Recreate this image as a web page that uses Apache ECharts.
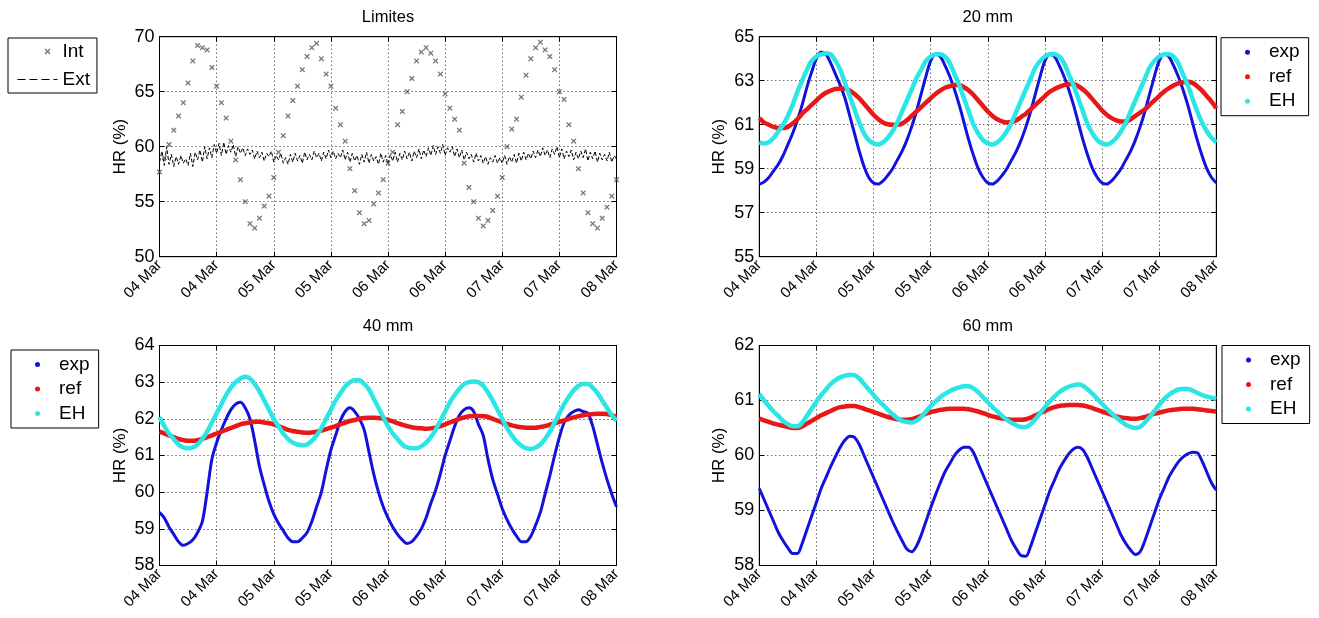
<!DOCTYPE html>
<html><head><meta charset="utf-8">
<script src="https://cdn.jsdelivr.net/npm/echarts@6/dist/echarts.min.js"></script>
<style>html,body{margin:0;padding:0;background:#fff}#c{width:1319px;height:618px}</style>
</head><body><div id="c"></div>
<script>
// ---- Data (hours from 04 Mar 00:00; hourly samples unless stated) ----
const tickLabels = ['04 Mar','04 Mar','05 Mar','05 Mar','06 Mar','06 Mar','07 Mar','07 Mar','08 Mar'];

const intHR = [57.7,59.0,60.2,61.5,62.8,64.0,65.8,67.8,69.2,69.0,
 68.8,67.2,65.5,64.0,62.6,60.5,58.8,57.0,55.0,53.0,
 52.6,53.5,54.6,55.5,57.2,59.5,61.0,62.8,64.2,65.5,
 67.0,68.2,69.0,69.4,68.0,66.6,65.5,63.5,62.0,60.5,
 58.0,56.0,54.0,53.0,53.3,54.8,55.8,57.0,58.5,59.5,
 62.0,63.2,65.0,66.2,67.8,68.6,69.0,68.5,67.8,66.6,
 64.8,63.5,62.5,61.5,58.5,56.3,55.0,53.5,52.8,53.3,
 54.2,55.5,57.2,60.0,61.6,62.5,64.5,66.5,68.0,69.0,
 69.5,68.8,68.2,67.0,65.0,64.3,62.0,60.5,58.0,55.8,
 54.0,53.0,52.6,53.5,54.5,55.5,57.0];

// half-hourly samples
const extHR = [58.6,59.6,58.3,60.0,58.4,59.3,58.2,59.1,
 58.4,59.2,58.5,58.9,58.3,59.4,58.2,59.5,
 58.8,59.7,58.6,60.0,58.9,59.9,59.0,60.2,
 59.4,60.3,59.2,60.4,59.3,60.1,59.5,60.2,
 59.1,60.0,59.4,59.9,59.2,59.8,59.3,59.7,
 58.9,59.6,59.0,59.5,58.7,59.4,59.1,59.6,
 58.6,59.2,58.8,59.4,58.5,59.0,58.4,59.3,
 58.6,59.4,58.7,59.2,58.5,59.5,58.8,59.3,
 58.8,59.6,59.0,59.4,58.7,59.5,58.9,59.7,
 59.0,59.6,58.9,59.4,59.0,59.7,58.8,59.5,
 58.6,59.4,58.7,59.2,58.4,59.3,58.6,59.5,
 58.5,59.3,58.7,59.1,58.4,59.4,58.6,59.2,
 58.4,59.3,58.7,59.5,58.6,59.4,58.8,59.6,
 58.9,59.5,58.7,59.6,59.0,59.8,58.9,59.7,
 59.1,59.9,59.2,60.1,59.3,60.0,59.4,60.2,
 59.2,59.9,59.5,60.0,59.1,59.8,59.0,59.7,
 58.8,59.5,58.9,59.3,58.6,59.4,58.7,59.2,
 58.5,59.1,58.4,59.0,58.6,59.2,58.5,59.0,
 58.5,59.2,58.4,59.1,58.6,59.3,58.5,59.4,
 58.7,59.5,58.8,59.4,58.9,59.6,59.0,59.7,
 59.1,59.9,59.2,59.7,59.0,59.8,59.3,60.0,
 59.0,59.8,58.9,59.6,59.1,59.7,58.8,59.5,
 58.9,59.6,59.0,59.8,58.7,59.5,58.9,59.6,
 58.6,59.4,58.8,59.3,58.7,59.5,58.6,59.2,
 58.9];

const exp20 = [58.3,58.4,58.6,58.9,59.2,59.6,60.1,60.6,61.2,61.9,
 62.7,63.4,64.0,64.3,64.2,63.8,63.3,62.8,62.2,61.4,
 60.6,59.8,59.1,58.6,58.35,58.3,58.45,58.7,59.0,59.4,
 59.8,60.3,60.9,61.6,62.4,63.2,63.9,64.2,64.1,63.7,
 63.2,62.6,61.9,61.1,60.3,59.6,59.0,58.6,58.35,58.3,
 58.45,58.7,59.0,59.4,59.8,60.3,60.9,61.6,62.4,63.2,
 63.9,64.2,64.1,63.7,63.2,62.6,61.9,61.1,60.3,59.6,
 59.0,58.6,58.35,58.3,58.45,58.7,59.0,59.4,59.8,60.3,
 60.9,61.6,62.4,63.2,63.9,64.2,64.1,63.7,63.2,62.6,
 61.9,61.1,60.3,59.6,59.0,58.6,58.35];
const ref20 = [61.3,61.1,61.0,60.9,60.85,60.85,60.9,61.05,61.25,61.5,
 61.7,61.9,62.1,62.3,62.45,62.55,62.62,62.65,62.65,62.55,
 62.4,62.2,61.95,61.7,61.45,61.25,61.1,61.02,61.0,61.0,
 61.05,61.2,61.4,61.6,61.8,62.0,62.2,62.4,62.55,62.68,
 62.75,62.8,62.8,62.7,62.55,62.35,62.1,61.85,61.6,61.4,
 61.25,61.15,61.1,61.12,61.2,61.35,61.5,61.7,61.9,62.1,
 62.3,62.5,62.62,62.72,62.8,62.85,62.85,62.75,62.6,62.4,
 62.15,61.9,61.65,61.45,61.3,61.2,61.15,61.15,61.25,61.4,
 61.55,61.7,61.9,62.1,62.3,62.5,62.65,62.78,62.88,62.93,
 62.95,62.9,62.75,62.55,62.3,62.05,61.75];
const eh20 = [60.2,60.15,60.2,60.4,60.7,61.0,61.4,61.9,62.5,63.0,
 63.5,63.9,64.1,64.2,64.25,64.2,63.9,63.5,62.9,62.3,
 61.7,61.1,60.6,60.3,60.15,60.1,60.2,60.4,60.7,61.1,
 61.6,62.1,62.6,63.1,63.5,63.9,64.1,64.2,64.2,64.1,
 63.8,63.3,62.8,62.2,61.6,61.0,60.6,60.3,60.15,60.1,
 60.2,60.4,60.7,61.1,61.6,62.1,62.6,63.1,63.6,63.9,
 64.1,64.2,64.2,64.1,63.8,63.3,62.8,62.2,61.6,61.0,
 60.6,60.3,60.15,60.1,60.2,60.4,60.7,61.1,61.6,62.1,
 62.6,63.1,63.6,63.9,64.1,64.2,64.2,64.1,63.8,63.3,
 62.8,62.2,61.6,61.1,60.7,60.4,60.2];

const exp40 = [59.45,59.3,59.05,58.85,58.65,58.55,58.6,58.7,58.9,59.2,
 60.0,60.9,61.35,61.7,62.0,62.25,62.4,62.45,62.3,62.0,
 61.4,60.7,60.2,59.75,59.4,59.15,58.95,58.75,58.65,58.65,
 58.75,58.9,59.2,59.6,60.0,60.6,61.15,61.55,61.95,62.2,
 62.3,62.2,62.0,61.7,61.1,60.5,60.0,59.6,59.3,59.05,
 58.85,58.7,58.6,58.65,58.8,59.0,59.3,59.7,60.05,60.5,
 61.0,61.4,61.8,62.1,62.25,62.3,62.2,61.85,61.55,60.9,
 60.35,59.95,59.55,59.25,59.0,58.8,58.65,58.65,58.8,59.1,
 59.45,59.95,60.45,61.0,61.5,61.9,62.1,62.2,62.25,62.2,
 62.15,61.8,61.3,60.8,60.35,59.95,59.6];
const ref40 = [61.65,61.6,61.55,61.5,61.45,61.42,61.4,61.4,61.42,61.45,
 61.5,61.55,61.6,61.65,61.7,61.75,61.8,61.85,61.88,61.9,
 61.92,61.92,61.9,61.88,61.85,61.8,61.75,61.7,61.67,61.65,
 61.63,61.62,61.63,61.65,61.68,61.72,61.76,61.8,61.85,61.9,
 61.94,61.97,62.0,62.02,62.03,62.03,62.02,62.0,61.97,61.93,
 61.88,61.84,61.8,61.77,61.75,61.74,61.73,61.74,61.76,61.8,
 61.85,61.9,61.95,62.0,62.04,62.07,62.08,62.08,62.07,62.05,
 62.0,61.95,61.9,61.86,61.82,61.79,61.77,61.76,61.76,61.76,
 61.78,61.8,61.84,61.88,61.92,61.96,62.0,62.04,62.07,62.1,
 62.12,62.13,62.14,62.14,62.13,62.1,62.05];
const eh40 = [62.05,61.8,61.6,61.45,61.3,61.22,61.2,61.22,61.3,61.45,
 61.65,61.9,62.15,62.4,62.65,62.85,63.0,63.1,63.15,63.1,
 62.95,62.75,62.5,62.25,62.0,61.8,61.6,61.45,61.35,61.3,
 61.28,61.3,61.4,61.55,61.75,62.0,62.25,62.5,62.7,62.88,
 63.0,63.05,63.05,62.95,62.8,62.55,62.3,62.05,61.8,61.6,
 61.45,61.3,61.22,61.2,61.2,61.25,61.35,61.5,61.7,61.95,
 62.2,62.45,62.65,62.82,62.95,63.0,63.02,63.0,62.9,62.72,
 62.5,62.25,62.0,61.75,61.55,61.38,61.27,61.2,61.18,61.22,
 61.3,61.45,61.65,61.9,62.15,62.4,62.6,62.78,62.9,62.95,
 62.95,62.85,62.7,62.5,62.3,62.1,61.95];

const exp60 = [59.4,59.2,59.0,58.8,58.6,58.45,58.32,58.22,58.22,58.4,
 58.65,58.9,59.15,59.4,59.6,59.8,59.98,60.15,60.28,60.35,
 60.33,60.2,60.0,59.8,59.6,59.4,59.2,59.0,58.8,58.62,
 58.45,58.3,58.25,58.35,58.55,58.8,59.05,59.28,59.5,59.7,
 59.85,60.0,60.1,60.15,60.15,60.05,59.85,59.65,59.45,59.25,
 59.05,58.85,58.65,58.45,58.3,58.18,58.17,58.35,58.6,58.85,
 59.1,59.35,59.55,59.75,59.9,60.03,60.12,60.15,60.1,59.95,
 59.75,59.55,59.35,59.15,58.95,58.75,58.55,58.4,58.28,58.2,
 58.25,58.45,58.7,58.95,59.2,59.4,59.6,59.75,59.88,59.97,
 60.03,60.06,60.05,59.9,59.7,59.5,59.37];
const ref60 = [60.67,60.64,60.61,60.58,60.56,60.54,60.52,60.5,60.5,60.53,
 60.58,60.63,60.68,60.73,60.77,60.81,60.85,60.88,60.89,60.9,
 60.9,60.88,60.85,60.82,60.79,60.76,60.73,60.7,60.68,60.66,
 60.65,60.65,60.66,60.69,60.72,60.76,60.79,60.81,60.83,60.84,
 60.85,60.85,60.85,60.85,60.84,60.82,60.8,60.77,60.74,60.71,
 60.69,60.67,60.66,60.65,60.65,60.65,60.66,60.69,60.73,60.77,
 60.81,60.85,60.88,60.9,60.91,60.92,60.92,60.92,60.91,60.89,
 60.86,60.83,60.8,60.77,60.74,60.71,60.69,60.68,60.67,60.67,
 60.68,60.7,60.73,60.76,60.78,60.8,60.82,60.83,60.84,60.85,
 60.85,60.85,60.84,60.83,60.82,60.81,60.8];
const eh60 = [61.12,61.0,60.9,60.8,60.72,60.63,60.57,60.53,60.53,60.6,
 60.72,60.85,60.98,61.1,61.2,61.3,61.37,61.42,61.45,61.47,
 61.46,61.4,61.3,61.2,61.1,61.0,60.92,60.83,60.75,60.68,
 60.63,60.61,60.6,60.63,60.7,60.8,60.9,60.98,61.06,61.12,
 61.17,61.21,61.24,61.26,61.26,61.22,61.15,61.06,60.97,60.88,
 60.8,60.72,60.65,60.59,60.55,60.52,60.52,60.57,60.66,60.77,
 60.88,60.98,61.07,61.15,61.21,61.25,61.28,61.29,61.27,61.2,
 61.12,61.03,60.94,60.85,60.77,60.69,60.62,60.56,60.52,60.5,
 60.52,60.6,60.7,60.81,60.92,61.02,61.1,61.16,61.2,61.21,
 61.21,61.18,61.14,61.1,61.07,61.05,61.03];

// ---- Layout / style ----
const FONT = '"Liberation Sans", Arial, Helvetica, sans-serif';
const W = 457, H = 220;
const panels = [
  {title:'Limites', yMin:50, yMax:70, yInt:5, left:159.5, top:36.7},
  {title:'20 mm',   yMin:55, yMax:65, yInt:2, left:759.3, top:36.7},
  {title:'40 mm',   yMin:58, yMax:64, yInt:1, left:159.5, top:345.5},
  {title:'60 mm',   yMin:58, yMax:62, yInt:1, left:759.3, top:345.5}
];
const COL = {exp:'#1212dc', ref:'#e81818', EH:'#2ce6e6', int:'#555555', ext:'#000000'};
const XMARK = 'path://M0,1L1,0L3,2L5,0L6,1L4,3L6,5L5,6L3,4L1,6L0,5L2,3Z';
const XMARK_LEG = 'path://M0,3L0.01,3L0,3ZM26,1L27,0L29,2L31,0L32,1L30,3L32,5L31,6L29,4L27,6L26,5L28,3ZM38,3L38.01,3L38,3Z';
const gridLine = {show:true, lineStyle:{color:'#222', type:[1,3], width:1}};
const blk = {color:'#000', width:1};

const grid = [], xAxis = [], yAxis = [], title = [];
panels.forEach((p, g) => {
  grid.push({left:p.left, top:p.top, width:W, height:H, show:true, borderColor:'#000', borderWidth:1, backgroundColor:'#fff'});
  title.push({text:p.title, left:p.left + W/2, top:p.top - 28, textAlign:'center', padding:0,
    textStyle:{fontSize:16.5, fontWeight:'normal', color:'#000', fontFamily:FONT}});
  xAxis.push({type:'value', gridIndex:g, min:0, max:96, interval:12,
    axisLine:{show:true, onZero:false, lineStyle:blk},
    axisTick:{show:true, inside:true, length:5, lineStyle:blk},
    axisLabel:{rotate:45, fontSize:15, color:'#000', fontFamily:FONT, margin:6,
      formatter: v => tickLabels[Math.round(v/12)]},
    splitLine:gridLine});
  xAxis.push({type:'value', gridIndex:g, position:'top', min:0, max:96, interval:12,
    axisLine:{show:true, onZero:false, lineStyle:blk},
    axisTick:{show:true, inside:true, length:5, lineStyle:blk},
    axisLabel:{show:false}, splitLine:{show:false}});
  yAxis.push({type:'value', gridIndex:g, min:p.yMin, max:p.yMax, interval:p.yInt,
    name:'HR (%)', nameLocation:'middle', nameGap:31, nameRotate:90,
    nameTextStyle:{fontSize:17, color:'#000', fontFamily:FONT},
    axisLine:{show:true, onZero:false, lineStyle:blk},
    axisTick:{show:true, inside:true, length:5, lineStyle:blk},
    axisLabel:{fontSize:18, color:'#000', fontFamily:FONT, margin:5},
    splitLine:gridLine});
  yAxis.push({type:'value', gridIndex:g, position:'right', min:p.yMin, max:p.yMax, interval:p.yInt,
    axisLine:{show:true, onZero:false, lineStyle:blk},
    axisTick:{show:true, inside:true, length:5, lineStyle:blk},
    axisLabel:{show:false}, splitLine:{show:false}});
});

const hourly = arr => arr.map((v, i) => [i, v]);
const halfHourly = arr => arr.map((v, i) => [i * 0.5, v]);

const series = [
  {name:'Ext', type:'line', xAxisIndex:0, yAxisIndex:0, data:halfHourly(extHR), symbol:'none',
   lineStyle:{color:COL.ext, width:1, type:[4,2]}, itemStyle:{color:COL.ext}, z:2},
  {name:'Int', type:'scatter', xAxisIndex:0, yAxisIndex:0, data:hourly(intHR), symbol:XMARK, symbolSize:5.5,
   itemStyle:{color:COL.int}, z:3}
];
const sets = [[exp20, ref20, eh20], [exp40, ref40, eh40], [exp60, ref60, eh60]];
sets.forEach((s, k) => {
  const g = k + 1;
  [['exp', s[0], 3], ['ref', s[1], 4.5], ['EH', s[2], 4.5]].forEach(([nm, arr, w]) => {
    series.push({name:nm, type:'line', xAxisIndex:2*g, yAxisIndex:2*g, data:hourly(arr), smooth:0.3,
      symbol:'none', lineStyle:{color:COL[nm], width:w}, itemStyle:{color:COL[nm]}});
  });
});

const legBase = {orient:'vertical', selectedMode:false, borderColor:'#000', borderWidth:1, backgroundColor:'#fff',
  textStyle:{fontSize:19, color:'#000', fontFamily:FONT}};
const dotLegend = (left, top) => Object.assign({}, legBase, {
  left, top, padding:[5,9,5,24], itemWidth:5, itemHeight:5, itemGap:5.5,
  data:[{name:'exp', icon:'circle'}, {name:'ref', icon:'circle'}, {name:'EH', icon:'circle'}],
  textStyle:Object.assign({}, legBase.textStyle, {padding:[0,0,0,14]})
});
const legend = [
  Object.assign({}, legBase, {left:8, top:38, padding:[4,7,4,9], itemWidth:40, itemHeight:6, itemGap:9,
    data:[{name:'Int', icon:XMARK_LEG},
          {name:'Ext', itemStyle:{color:'rgba(0,0,0,0)', opacity:0}, lineStyle:{type:[8,4], width:1, color:'#000'}}]}),
  dotLegend(1221, 37.7),
  dotLegend(11, 350),
  dotLegend(1222, 345.5)
];

const chart = echarts.init(document.getElementById('c'));
chart.setOption({animation:false, backgroundColor:'#fff', title, grid, xAxis, yAxis, legend, series});
</script></body></html>
